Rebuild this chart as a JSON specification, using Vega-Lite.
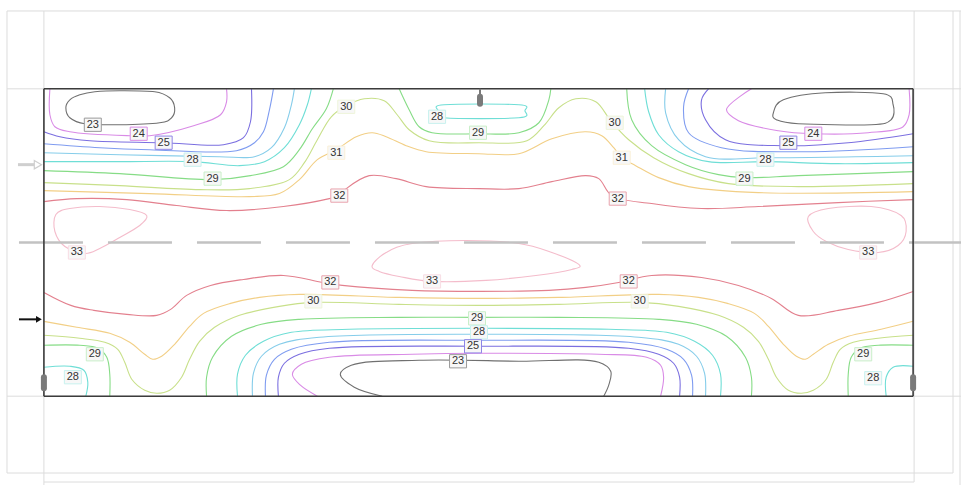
{
  "$schema": "https://vega.github.io/schema/vega-lite/v6.json",
  "width": 963,
  "height": 486,
  "autosize": {"type": "fit", "contains": "padding"},
  "padding": 0,
  "background": "white",
  "view": {"stroke": null},
  "datasets": {
    "rules": [
      {"s": "light", "x": 7, "y": 11, "x2": 963, "y2": 11},
      {"s": "light", "x": 7, "y": 89, "x2": 963, "y2": 89},
      {"s": "light", "x": 7, "y": 397, "x2": 963, "y2": 397},
      {"s": "light", "x": 7, "y": 474, "x2": 955, "y2": 474},
      {"s": "light", "x": 44, "y": 483, "x2": 916, "y2": 483},
      {"s": "light", "x": 7, "y": 11, "x2": 7, "y2": 474},
      {"s": "light", "x": 44, "y": 11, "x2": 44, "y2": 486},
      {"s": "light", "x": 916, "y": 11, "x2": 916, "y2": 483},
      {"s": "light", "x": 955, "y": 11, "x2": 955, "y2": 474},
      {"s": "light", "x": 962, "y": 11, "x2": 962, "y2": 486},
      {"s": "border", "x": 44, "y": 89, "x2": 915, "y2": 89},
      {"s": "border", "x": 44, "y": 397, "x2": 915, "y2": 397},
      {"s": "border", "x": 44, "y": 89, "x2": 44, "y2": 397},
      {"s": "border", "x": 915, "y": 89, "x2": 915, "y2": 397},
      {"s": "dash", "x": 19, "y": 243, "x2": 963, "y2": 243},
      {"s": "stem", "x": 481, "y": 89, "x2": 481, "y2": 98},
      {"s": "blob", "x": 481, "y": 97, "x2": 481, "y2": 104},
      {"s": "blob", "x": 44, "y": 378, "x2": 44, "y2": 389},
      {"s": "blob", "x": 915, "y": 378, "x2": 915, "y2": 389},
      {"s": "garrow", "x": 18, "y": 165, "x2": 37, "y2": 165},
      {"s": "barrow", "x": 19, "y": 320, "x2": 37, "y2": 320}
    ],
    "heads": [
      {"s": "garrow", "x": 38, "y": 165},
      {"s": "barrow", "x": 39, "y": 320}
    ],
    "lines": [
      {"c": "t24L", "lv": "24", "x": 50, "y": 89}, {"c": "t24L", "lv": "24", "x": 50, "y": 115}, {"c": "t24L", "lv": "24", "x": 55, "y": 127}, {"c": "t24L", "lv": "24", "x": 70, "y": 132}, {"c": "t24L", "lv": "24", "x": 130, "y": 136}, {"c": "t24L", "lv": "24", "x": 150, "y": 136}, {"c": "t24L", "lv": "24", "x": 194, "y": 126}, {"c": "t24L", "lv": "24", "x": 221, "y": 115}, {"c": "t24L", "lv": "24", "x": 227, "y": 102}, {"c": "t24L", "lv": "24", "x": 227, "y": 89},
      {"c": "t25L", "lv": "25", "x": 44, "y": 132}, {"c": "t25L", "lv": "25", "x": 60, "y": 137}, {"c": "t25L", "lv": "25", "x": 90, "y": 141}, {"c": "t25L", "lv": "25", "x": 164, "y": 143}, {"c": "t25L", "lv": "25", "x": 224, "y": 145}, {"c": "t25L", "lv": "25", "x": 244, "y": 138}, {"c": "t25L", "lv": "25", "x": 251, "y": 122}, {"c": "t25L", "lv": "25", "x": 252, "y": 89},
      {"c": "t26L", "lv": "26", "x": 44, "y": 144}, {"c": "t26L", "lv": "26", "x": 100, "y": 148}, {"c": "t26L", "lv": "26", "x": 150, "y": 150}, {"c": "t26L", "lv": "26", "x": 237, "y": 151}, {"c": "t26L", "lv": "26", "x": 255, "y": 143}, {"c": "t26L", "lv": "26", "x": 264, "y": 132}, {"c": "t26L", "lv": "26", "x": 270, "y": 110}, {"c": "t26L", "lv": "26", "x": 274, "y": 89},
      {"c": "t27L", "lv": "27", "x": 44, "y": 153}, {"c": "t27L", "lv": "27", "x": 120, "y": 155}, {"c": "t27L", "lv": "27", "x": 220, "y": 157}, {"c": "t27L", "lv": "27", "x": 255, "y": 157}, {"c": "t27L", "lv": "27", "x": 272, "y": 148}, {"c": "t27L", "lv": "27", "x": 285, "y": 128}, {"c": "t27L", "lv": "27", "x": 292, "y": 105}, {"c": "t27L", "lv": "27", "x": 295, "y": 89},
      {"c": "t28L", "lv": "28", "x": 44, "y": 162}, {"c": "t28L", "lv": "28", "x": 120, "y": 162}, {"c": "t28L", "lv": "28", "x": 193, "y": 162}, {"c": "t28L", "lv": "28", "x": 240, "y": 166}, {"c": "t28L", "lv": "28", "x": 265, "y": 162}, {"c": "t28L", "lv": "28", "x": 285, "y": 148}, {"c": "t28L", "lv": "28", "x": 300, "y": 125}, {"c": "t28L", "lv": "28", "x": 308, "y": 105}, {"c": "t28L", "lv": "28", "x": 312, "y": 89},
      {"c": "t29L", "lv": "29", "x": 44, "y": 171}, {"c": "t29L", "lv": "29", "x": 120, "y": 174}, {"c": "t29L", "lv": "29", "x": 213, "y": 180}, {"c": "t29L", "lv": "29", "x": 251, "y": 176}, {"c": "t29L", "lv": "29", "x": 284, "y": 167}, {"c": "t29L", "lv": "29", "x": 300, "y": 150}, {"c": "t29L", "lv": "29", "x": 313, "y": 129}, {"c": "t29L", "lv": "29", "x": 327, "y": 109}, {"c": "t29L", "lv": "29", "x": 334, "y": 89},
      {"c": "t30", "lv": "30", "x": 44, "y": 183}, {"c": "t30", "lv": "30", "x": 120, "y": 186}, {"c": "t30", "lv": "30", "x": 200, "y": 190}, {"c": "t30", "lv": "30", "x": 250, "y": 189}, {"c": "t30", "lv": "30", "x": 290, "y": 180}, {"c": "t30", "lv": "30", "x": 305, "y": 163}, {"c": "t30", "lv": "30", "x": 318, "y": 140}, {"c": "t30", "lv": "30", "x": 332, "y": 117}, {"c": "t30", "lv": "30", "x": 347, "y": 106}, {"c": "t30", "lv": "30", "x": 365, "y": 99}, {"c": "t30", "lv": "30", "x": 385, "y": 101}, {"c": "t30", "lv": "30", "x": 398, "y": 115}, {"c": "t30", "lv": "30", "x": 410, "y": 130}, {"c": "t30", "lv": "30", "x": 430, "y": 141}, {"c": "t30", "lv": "30", "x": 480, "y": 143}, {"c": "t30", "lv": "30", "x": 528, "y": 141}, {"c": "t30", "lv": "30", "x": 545, "y": 126}, {"c": "t30", "lv": "30", "x": 560, "y": 108}, {"c": "t30", "lv": "30", "x": 577, "y": 99}, {"c": "t30", "lv": "30", "x": 597, "y": 102}, {"c": "t30", "lv": "30", "x": 612, "y": 121}, {"c": "t30", "lv": "30", "x": 630, "y": 140}, {"c": "t30", "lv": "30", "x": 655, "y": 158}, {"c": "t30", "lv": "30", "x": 690, "y": 174}, {"c": "t30", "lv": "30", "x": 730, "y": 184}, {"c": "t30", "lv": "30", "x": 800, "y": 187}, {"c": "t30", "lv": "30", "x": 915, "y": 184},
      {"c": "t31", "lv": "31", "x": 44, "y": 191}, {"c": "t31", "lv": "31", "x": 150, "y": 194}, {"c": "t31", "lv": "31", "x": 250, "y": 197}, {"c": "t31", "lv": "31", "x": 280, "y": 194}, {"c": "t31", "lv": "31", "x": 300, "y": 180}, {"c": "t31", "lv": "31", "x": 318, "y": 160}, {"c": "t31", "lv": "31", "x": 337, "y": 150}, {"c": "t31", "lv": "31", "x": 357, "y": 137}, {"c": "t31", "lv": "31", "x": 373, "y": 133}, {"c": "t31", "lv": "31", "x": 387, "y": 137}, {"c": "t31", "lv": "31", "x": 407, "y": 146}, {"c": "t31", "lv": "31", "x": 427, "y": 152}, {"c": "t31", "lv": "31", "x": 480, "y": 154}, {"c": "t31", "lv": "31", "x": 520, "y": 154}, {"c": "t31", "lv": "31", "x": 553, "y": 139}, {"c": "t31", "lv": "31", "x": 587, "y": 132}, {"c": "t31", "lv": "31", "x": 603, "y": 136}, {"c": "t31", "lv": "31", "x": 615, "y": 148}, {"c": "t31", "lv": "31", "x": 623, "y": 158}, {"c": "t31", "lv": "31", "x": 637, "y": 166}, {"c": "t31", "lv": "31", "x": 660, "y": 178}, {"c": "t31", "lv": "31", "x": 690, "y": 187}, {"c": "t31", "lv": "31", "x": 760, "y": 193}, {"c": "t31", "lv": "31", "x": 915, "y": 192},
      {"c": "t32", "lv": "32", "x": 44, "y": 202}, {"c": "t32", "lv": "32", "x": 77, "y": 199}, {"c": "t32", "lv": "32", "x": 127, "y": 200}, {"c": "t32", "lv": "32", "x": 177, "y": 206}, {"c": "t32", "lv": "32", "x": 227, "y": 211}, {"c": "t32", "lv": "32", "x": 284, "y": 207}, {"c": "t32", "lv": "32", "x": 330, "y": 199}, {"c": "t32", "lv": "32", "x": 340, "y": 196}, {"c": "t32", "lv": "32", "x": 347, "y": 189}, {"c": "t32", "lv": "32", "x": 370, "y": 176}, {"c": "t32", "lv": "32", "x": 397, "y": 179}, {"c": "t32", "lv": "32", "x": 427, "y": 187}, {"c": "t32", "lv": "32", "x": 480, "y": 189}, {"c": "t32", "lv": "32", "x": 520, "y": 189}, {"c": "t32", "lv": "32", "x": 553, "y": 182}, {"c": "t32", "lv": "32", "x": 587, "y": 176}, {"c": "t32", "lv": "32", "x": 600, "y": 179}, {"c": "t32", "lv": "32", "x": 613, "y": 196}, {"c": "t32", "lv": "32", "x": 653, "y": 204}, {"c": "t32", "lv": "32", "x": 703, "y": 209}, {"c": "t32", "lv": "32", "x": 760, "y": 207}, {"c": "t32", "lv": "32", "x": 840, "y": 203}, {"c": "t32", "lv": "32", "x": 915, "y": 200},
      {"c": "t29C", "lv": "29", "x": 400, "y": 89}, {"c": "t29C", "lv": "29", "x": 410, "y": 110}, {"c": "t29C", "lv": "29", "x": 420, "y": 127}, {"c": "t29C", "lv": "29", "x": 433, "y": 133}, {"c": "t29C", "lv": "29", "x": 479, "y": 134}, {"c": "t29C", "lv": "29", "x": 520, "y": 133}, {"c": "t29C", "lv": "29", "x": 540, "y": 123}, {"c": "t29C", "lv": "29", "x": 550, "y": 100}, {"c": "t29C", "lv": "29", "x": 552, "y": 89},
      {"c": "t24R", "lv": "24", "x": 753, "y": 89}, {"c": "t24R", "lv": "24", "x": 728, "y": 110}, {"c": "t24R", "lv": "24", "x": 740, "y": 121}, {"c": "t24R", "lv": "24", "x": 780, "y": 131}, {"c": "t24R", "lv": "24", "x": 815, "y": 134}, {"c": "t24R", "lv": "24", "x": 870, "y": 133}, {"c": "t24R", "lv": "24", "x": 905, "y": 127}, {"c": "t24R", "lv": "24", "x": 911, "y": 115}, {"c": "t24R", "lv": "24", "x": 911, "y": 89},
      {"c": "t25R", "lv": "25", "x": 710, "y": 89}, {"c": "t25R", "lv": "25", "x": 703, "y": 100}, {"c": "t25R", "lv": "25", "x": 707, "y": 120}, {"c": "t25R", "lv": "25", "x": 727, "y": 140}, {"c": "t25R", "lv": "25", "x": 787, "y": 146}, {"c": "t25R", "lv": "25", "x": 850, "y": 143}, {"c": "t25R", "lv": "25", "x": 915, "y": 134},
      {"c": "t26R", "lv": "26", "x": 690, "y": 89}, {"c": "t26R", "lv": "26", "x": 685, "y": 107}, {"c": "t26R", "lv": "26", "x": 690, "y": 133}, {"c": "t26R", "lv": "26", "x": 723, "y": 148}, {"c": "t26R", "lv": "26", "x": 807, "y": 152}, {"c": "t26R", "lv": "26", "x": 915, "y": 147},
      {"c": "t27R", "lv": "27", "x": 667, "y": 89}, {"c": "t27R", "lv": "27", "x": 667, "y": 113}, {"c": "t27R", "lv": "27", "x": 680, "y": 140}, {"c": "t27R", "lv": "27", "x": 707, "y": 157}, {"c": "t27R", "lv": "27", "x": 773, "y": 158}, {"c": "t27R", "lv": "27", "x": 915, "y": 156},
      {"c": "t28R", "lv": "28", "x": 646, "y": 89}, {"c": "t28R", "lv": "28", "x": 650, "y": 112}, {"c": "t28R", "lv": "28", "x": 660, "y": 135}, {"c": "t28R", "lv": "28", "x": 680, "y": 152}, {"c": "t28R", "lv": "28", "x": 710, "y": 162}, {"c": "t28R", "lv": "28", "x": 767, "y": 162}, {"c": "t28R", "lv": "28", "x": 840, "y": 164}, {"c": "t28R", "lv": "28", "x": 915, "y": 163},
      {"c": "t29R", "lv": "29", "x": 628, "y": 89}, {"c": "t29R", "lv": "29", "x": 633, "y": 120}, {"c": "t29R", "lv": "29", "x": 653, "y": 146}, {"c": "t29R", "lv": "29", "x": 687, "y": 165}, {"c": "t29R", "lv": "29", "x": 720, "y": 175}, {"c": "t29R", "lv": "29", "x": 746, "y": 178}, {"c": "t29R", "lv": "29", "x": 800, "y": 176}, {"c": "t29R", "lv": "29", "x": 915, "y": 172},
      {"c": "b32", "lv": "32", "x": 44, "y": 293}, {"c": "b32", "lv": "32", "x": 71, "y": 306}, {"c": "b32", "lv": "32", "x": 94, "y": 311}, {"c": "b32", "lv": "32", "x": 127, "y": 315}, {"c": "b32", "lv": "32", "x": 157, "y": 316}, {"c": "b32", "lv": "32", "x": 171, "y": 310}, {"c": "b32", "lv": "32", "x": 187, "y": 296}, {"c": "b32", "lv": "32", "x": 211, "y": 286}, {"c": "b32", "lv": "32", "x": 244, "y": 280}, {"c": "b32", "lv": "32", "x": 284, "y": 276}, {"c": "b32", "lv": "32", "x": 323, "y": 283}, {"c": "b32", "lv": "32", "x": 343, "y": 286}, {"c": "b32", "lv": "32", "x": 413, "y": 291}, {"c": "b32", "lv": "32", "x": 480, "y": 292}, {"c": "b32", "lv": "32", "x": 550, "y": 291}, {"c": "b32", "lv": "32", "x": 587, "y": 288}, {"c": "b32", "lv": "32", "x": 620, "y": 283}, {"c": "b32", "lv": "32", "x": 653, "y": 276}, {"c": "b32", "lv": "32", "x": 703, "y": 278}, {"c": "b32", "lv": "32", "x": 740, "y": 286}, {"c": "b32", "lv": "32", "x": 773, "y": 299}, {"c": "b32", "lv": "32", "x": 800, "y": 316}, {"c": "b32", "lv": "32", "x": 840, "y": 311}, {"c": "b32", "lv": "32", "x": 880, "y": 303}, {"c": "b32", "lv": "32", "x": 915, "y": 292},
      {"c": "b31", "lv": "31", "x": 44, "y": 322}, {"c": "b31", "lv": "31", "x": 77, "y": 328}, {"c": "b31", "lv": "31", "x": 110, "y": 334}, {"c": "b31", "lv": "31", "x": 130, "y": 343}, {"c": "b31", "lv": "31", "x": 145, "y": 355}, {"c": "b31", "lv": "31", "x": 153, "y": 360}, {"c": "b31", "lv": "31", "x": 162, "y": 357}, {"c": "b31", "lv": "31", "x": 175, "y": 345}, {"c": "b31", "lv": "31", "x": 190, "y": 327}, {"c": "b31", "lv": "31", "x": 204, "y": 314}, {"c": "b31", "lv": "31", "x": 231, "y": 304}, {"c": "b31", "lv": "31", "x": 260, "y": 298}, {"c": "b31", "lv": "31", "x": 300, "y": 295}, {"c": "b31", "lv": "31", "x": 400, "y": 298}, {"c": "b31", "lv": "31", "x": 480, "y": 299}, {"c": "b31", "lv": "31", "x": 560, "y": 298}, {"c": "b31", "lv": "31", "x": 660, "y": 295}, {"c": "b31", "lv": "31", "x": 700, "y": 298}, {"c": "b31", "lv": "31", "x": 729, "y": 304}, {"c": "b31", "lv": "31", "x": 756, "y": 314}, {"c": "b31", "lv": "31", "x": 770, "y": 327}, {"c": "b31", "lv": "31", "x": 785, "y": 345}, {"c": "b31", "lv": "31", "x": 798, "y": 357}, {"c": "b31", "lv": "31", "x": 807, "y": 360}, {"c": "b31", "lv": "31", "x": 815, "y": 355}, {"c": "b31", "lv": "31", "x": 830, "y": 345}, {"c": "b31", "lv": "31", "x": 850, "y": 337}, {"c": "b31", "lv": "31", "x": 883, "y": 330}, {"c": "b31", "lv": "31", "x": 915, "y": 322},
      {"c": "b30", "lv": "30", "x": 44, "y": 336}, {"c": "b30", "lv": "30", "x": 80, "y": 339}, {"c": "b30", "lv": "30", "x": 105, "y": 343}, {"c": "b30", "lv": "30", "x": 118, "y": 350}, {"c": "b30", "lv": "30", "x": 125, "y": 363}, {"c": "b30", "lv": "30", "x": 132, "y": 380}, {"c": "b30", "lv": "30", "x": 145, "y": 391}, {"c": "b30", "lv": "30", "x": 157, "y": 394}, {"c": "b30", "lv": "30", "x": 170, "y": 391}, {"c": "b30", "lv": "30", "x": 182, "y": 378}, {"c": "b30", "lv": "30", "x": 190, "y": 360}, {"c": "b30", "lv": "30", "x": 200, "y": 342}, {"c": "b30", "lv": "30", "x": 215, "y": 328}, {"c": "b30", "lv": "30", "x": 240, "y": 316}, {"c": "b30", "lv": "30", "x": 280, "y": 307}, {"c": "b30", "lv": "30", "x": 314, "y": 303}, {"c": "b30", "lv": "30", "x": 400, "y": 305}, {"c": "b30", "lv": "30", "x": 480, "y": 306}, {"c": "b30", "lv": "30", "x": 560, "y": 305}, {"c": "b30", "lv": "30", "x": 641, "y": 303}, {"c": "b30", "lv": "30", "x": 680, "y": 307}, {"c": "b30", "lv": "30", "x": 720, "y": 316}, {"c": "b30", "lv": "30", "x": 745, "y": 328}, {"c": "b30", "lv": "30", "x": 760, "y": 342}, {"c": "b30", "lv": "30", "x": 770, "y": 360}, {"c": "b30", "lv": "30", "x": 778, "y": 378}, {"c": "b30", "lv": "30", "x": 790, "y": 391}, {"c": "b30", "lv": "30", "x": 803, "y": 394}, {"c": "b30", "lv": "30", "x": 815, "y": 391}, {"c": "b30", "lv": "30", "x": 828, "y": 380}, {"c": "b30", "lv": "30", "x": 835, "y": 363}, {"c": "b30", "lv": "30", "x": 842, "y": 350}, {"c": "b30", "lv": "30", "x": 855, "y": 343}, {"c": "b30", "lv": "30", "x": 880, "y": 339}, {"c": "b30", "lv": "30", "x": 915, "y": 336},
      {"c": "b29a", "lv": "29", "x": 207, "y": 397}, {"c": "b29a", "lv": "29", "x": 207, "y": 378}, {"c": "b29a", "lv": "29", "x": 213, "y": 358}, {"c": "b29a", "lv": "29", "x": 232, "y": 337}, {"c": "b29a", "lv": "29", "x": 262, "y": 325}, {"c": "b29a", "lv": "29", "x": 300, "y": 320}, {"c": "b29a", "lv": "29", "x": 400, "y": 318}, {"c": "b29a", "lv": "29", "x": 480, "y": 318}, {"c": "b29a", "lv": "29", "x": 560, "y": 318}, {"c": "b29a", "lv": "29", "x": 660, "y": 320}, {"c": "b29a", "lv": "29", "x": 698, "y": 325}, {"c": "b29a", "lv": "29", "x": 728, "y": 337}, {"c": "b29a", "lv": "29", "x": 747, "y": 358}, {"c": "b29a", "lv": "29", "x": 753, "y": 378}, {"c": "b29a", "lv": "29", "x": 753, "y": 397},
      {"c": "b28a", "lv": "28", "x": 238, "y": 397}, {"c": "b28a", "lv": "28", "x": 238, "y": 375}, {"c": "b28a", "lv": "28", "x": 246, "y": 356}, {"c": "b28a", "lv": "28", "x": 264, "y": 342}, {"c": "b28a", "lv": "28", "x": 292, "y": 333}, {"c": "b28a", "lv": "28", "x": 350, "y": 330}, {"c": "b28a", "lv": "28", "x": 480, "y": 329}, {"c": "b28a", "lv": "28", "x": 610, "y": 330}, {"c": "b28a", "lv": "28", "x": 668, "y": 333}, {"c": "b28a", "lv": "28", "x": 696, "y": 342}, {"c": "b28a", "lv": "28", "x": 714, "y": 356}, {"c": "b28a", "lv": "28", "x": 722, "y": 375}, {"c": "b28a", "lv": "28", "x": 722, "y": 397},
      {"c": "b27a", "lv": "27", "x": 253, "y": 397}, {"c": "b27a", "lv": "27", "x": 254, "y": 374}, {"c": "b27a", "lv": "27", "x": 262, "y": 357}, {"c": "b27a", "lv": "27", "x": 280, "y": 345}, {"c": "b27a", "lv": "27", "x": 320, "y": 338}, {"c": "b27a", "lv": "27", "x": 480, "y": 335}, {"c": "b27a", "lv": "27", "x": 640, "y": 338}, {"c": "b27a", "lv": "27", "x": 680, "y": 345}, {"c": "b27a", "lv": "27", "x": 698, "y": 357}, {"c": "b27a", "lv": "27", "x": 706, "y": 374}, {"c": "b27a", "lv": "27", "x": 707, "y": 397},
      {"c": "b26a", "lv": "26", "x": 266, "y": 397}, {"c": "b26a", "lv": "26", "x": 267, "y": 376}, {"c": "b26a", "lv": "26", "x": 275, "y": 360}, {"c": "b26a", "lv": "26", "x": 292, "y": 350}, {"c": "b26a", "lv": "26", "x": 330, "y": 343}, {"c": "b26a", "lv": "26", "x": 480, "y": 341}, {"c": "b26a", "lv": "26", "x": 630, "y": 343}, {"c": "b26a", "lv": "26", "x": 668, "y": 350}, {"c": "b26a", "lv": "26", "x": 685, "y": 360}, {"c": "b26a", "lv": "26", "x": 693, "y": 376}, {"c": "b26a", "lv": "26", "x": 694, "y": 397},
      {"c": "b25a", "lv": "25", "x": 279, "y": 397}, {"c": "b25a", "lv": "25", "x": 279, "y": 378}, {"c": "b25a", "lv": "25", "x": 285, "y": 364}, {"c": "b25a", "lv": "25", "x": 300, "y": 355}, {"c": "b25a", "lv": "25", "x": 330, "y": 349}, {"c": "b25a", "lv": "25", "x": 480, "y": 347}, {"c": "b25a", "lv": "25", "x": 630, "y": 349}, {"c": "b25a", "lv": "25", "x": 660, "y": 355}, {"c": "b25a", "lv": "25", "x": 675, "y": 364}, {"c": "b25a", "lv": "25", "x": 681, "y": 378}, {"c": "b25a", "lv": "25", "x": 681, "y": 397},
      {"c": "b24a", "lv": "24", "x": 318, "y": 397}, {"c": "b24a", "lv": "24", "x": 301, "y": 386}, {"c": "b24a", "lv": "24", "x": 293, "y": 375}, {"c": "b24a", "lv": "24", "x": 302, "y": 365}, {"c": "b24a", "lv": "24", "x": 330, "y": 358}, {"c": "b24a", "lv": "24", "x": 413, "y": 355}, {"c": "b24a", "lv": "24", "x": 480, "y": 354}, {"c": "b24a", "lv": "24", "x": 600, "y": 355}, {"c": "b24a", "lv": "24", "x": 648, "y": 358}, {"c": "b24a", "lv": "24", "x": 662, "y": 366}, {"c": "b24a", "lv": "24", "x": 665, "y": 378}, {"c": "b24a", "lv": "24", "x": 662, "y": 397},
      {"c": "b23a", "lv": "23", "x": 383, "y": 397}, {"c": "b23a", "lv": "23", "x": 355, "y": 388}, {"c": "b23a", "lv": "23", "x": 341, "y": 375}, {"c": "b23a", "lv": "23", "x": 352, "y": 366}, {"c": "b23a", "lv": "23", "x": 420, "y": 361}, {"c": "b23a", "lv": "23", "x": 520, "y": 362}, {"c": "b23a", "lv": "23", "x": 600, "y": 363}, {"c": "b23a", "lv": "23", "x": 612, "y": 372}, {"c": "b23a", "lv": "23", "x": 610, "y": 386}, {"c": "b23a", "lv": "23", "x": 605, "y": 397},
      {"c": "b29cL", "lv": "29", "x": 44, "y": 346}, {"c": "b29cL", "lv": "29", "x": 80, "y": 346}, {"c": "b29cL", "lv": "29", "x": 98, "y": 349}, {"c": "b29cL", "lv": "29", "x": 107, "y": 358}, {"c": "b29cL", "lv": "29", "x": 110, "y": 375}, {"c": "b29cL", "lv": "29", "x": 110, "y": 397},
      {"c": "b28cL", "lv": "28", "x": 44, "y": 368}, {"c": "b28cL", "lv": "28", "x": 70, "y": 367}, {"c": "b28cL", "lv": "28", "x": 84, "y": 371}, {"c": "b28cL", "lv": "28", "x": 88, "y": 383}, {"c": "b28cL", "lv": "28", "x": 86, "y": 397},
      {"c": "b29cR", "lv": "29", "x": 915, "y": 346}, {"c": "b29cR", "lv": "29", "x": 880, "y": 346}, {"c": "b29cR", "lv": "29", "x": 862, "y": 349}, {"c": "b29cR", "lv": "29", "x": 853, "y": 358}, {"c": "b29cR", "lv": "29", "x": 850, "y": 375}, {"c": "b29cR", "lv": "29", "x": 850, "y": 397},
      {"c": "b28cR", "lv": "28", "x": 915, "y": 367}, {"c": "b28cR", "lv": "28", "x": 895, "y": 368}, {"c": "b28cR", "lv": "28", "x": 888, "y": 378}, {"c": "b28cR", "lv": "28", "x": 888, "y": 397}
    ],
    "loops": [
      {"c": "L23L", "lv": "23", "x": 80, "y": 95}, {"c": "L23L", "lv": "23", "x": 70, "y": 100}, {"c": "L23L", "lv": "23", "x": 66, "y": 108}, {"c": "L23L", "lv": "23", "x": 70, "y": 118}, {"c": "L23L", "lv": "23", "x": 85, "y": 124}, {"c": "L23L", "lv": "23", "x": 120, "y": 125}, {"c": "L23L", "lv": "23", "x": 160, "y": 123}, {"c": "L23L", "lv": "23", "x": 172, "y": 118}, {"c": "L23L", "lv": "23", "x": 175, "y": 108}, {"c": "L23L", "lv": "23", "x": 170, "y": 98}, {"c": "L23L", "lv": "23", "x": 155, "y": 92}, {"c": "L23L", "lv": "23", "x": 120, "y": 91}, {"c": "L23L", "lv": "23", "x": 95, "y": 92},
      {"c": "L23R", "lv": "23", "x": 775, "y": 113}, {"c": "L23R", "lv": "23", "x": 785, "y": 100}, {"c": "L23R", "lv": "23", "x": 827, "y": 93}, {"c": "L23R", "lv": "23", "x": 885, "y": 94}, {"c": "L23R", "lv": "23", "x": 895, "y": 105}, {"c": "L23R", "lv": "23", "x": 893, "y": 120}, {"c": "L23R", "lv": "23", "x": 873, "y": 125}, {"c": "L23R", "lv": "23", "x": 800, "y": 124}, {"c": "L23R", "lv": "23", "x": 778, "y": 120},
      {"c": "L33L", "lv": "33", "x": 56, "y": 215}, {"c": "L33L", "lv": "33", "x": 70, "y": 209}, {"c": "L33L", "lv": "33", "x": 100, "y": 207}, {"c": "L33L", "lv": "33", "x": 130, "y": 210}, {"c": "L33L", "lv": "33", "x": 147, "y": 216}, {"c": "L33L", "lv": "33", "x": 140, "y": 226}, {"c": "L33L", "lv": "33", "x": 120, "y": 238}, {"c": "L33L", "lv": "33", "x": 100, "y": 249}, {"c": "L33L", "lv": "33", "x": 85, "y": 254}, {"c": "L33L", "lv": "33", "x": 65, "y": 247}, {"c": "L33L", "lv": "33", "x": 55, "y": 232},
      {"c": "L33R", "lv": "33", "x": 810, "y": 217}, {"c": "L33R", "lv": "33", "x": 830, "y": 209}, {"c": "L33R", "lv": "33", "x": 873, "y": 207}, {"c": "L33R", "lv": "33", "x": 903, "y": 216}, {"c": "L33R", "lv": "33", "x": 908, "y": 232}, {"c": "L33R", "lv": "33", "x": 900, "y": 246}, {"c": "L33R", "lv": "33", "x": 880, "y": 253}, {"c": "L33R", "lv": "33", "x": 850, "y": 250}, {"c": "L33R", "lv": "33", "x": 828, "y": 242}, {"c": "L33R", "lv": "33", "x": 815, "y": 232},
      {"c": "L33C", "lv": "33", "x": 373, "y": 266}, {"c": "L33C", "lv": "33", "x": 387, "y": 253}, {"c": "L33C", "lv": "33", "x": 413, "y": 244}, {"c": "L33C", "lv": "33", "x": 467, "y": 241}, {"c": "L33C", "lv": "33", "x": 520, "y": 244}, {"c": "L33C", "lv": "33", "x": 553, "y": 253}, {"c": "L33C", "lv": "33", "x": 580, "y": 265}, {"c": "L33C", "lv": "33", "x": 573, "y": 270}, {"c": "L33C", "lv": "33", "x": 537, "y": 276}, {"c": "L33C", "lv": "33", "x": 487, "y": 281}, {"c": "L33C", "lv": "33", "x": 433, "y": 282}, {"c": "L33C", "lv": "33", "x": 400, "y": 277}, {"c": "L33C", "lv": "33", "x": 380, "y": 272},
      {"c": "L28C", "lv": "28", "x": 445, "y": 105}, {"c": "L28C", "lv": "28", "x": 520, "y": 105}, {"c": "L28C", "lv": "28", "x": 526, "y": 111}, {"c": "L28C", "lv": "28", "x": 520, "y": 118}, {"c": "L28C", "lv": "28", "x": 445, "y": 118}, {"c": "L28C", "lv": "28", "x": 439, "y": 111}
    ],
    "labels": [
      {"lv": "23", "x": 93, "y": 125}, {"lv": "24", "x": 139, "y": 134}, {"lv": "25", "x": 164, "y": 143}, {"lv": "28", "x": 193, "y": 160}, {"lv": "29", "x": 213, "y": 179},
      {"lv": "30", "x": 347, "y": 107}, {"lv": "31", "x": 337, "y": 153}, {"lv": "32", "x": 340, "y": 196}, {"lv": "28", "x": 438, "y": 117}, {"lv": "29", "x": 479, "y": 133},
      {"lv": "30", "x": 616, "y": 123}, {"lv": "31", "x": 623, "y": 158}, {"lv": "32", "x": 619, "y": 199}, {"lv": "25", "x": 790, "y": 143}, {"lv": "24", "x": 815, "y": 134},
      {"lv": "28", "x": 767, "y": 160}, {"lv": "29", "x": 746, "y": 179}, {"lv": "33", "x": 77, "y": 253}, {"lv": "33", "x": 870, "y": 253},
      {"lv": "32", "x": 331, "y": 283}, {"lv": "33", "x": 433, "y": 282}, {"lv": "32", "x": 630, "y": 282}, {"lv": "30", "x": 314, "y": 302}, {"lv": "30", "x": 641, "y": 302},
      {"lv": "29", "x": 478, "y": 319}, {"lv": "28", "x": 480, "y": 333}, {"lv": "25", "x": 474, "y": 347}, {"lv": "23", "x": 459, "y": 362},
      {"lv": "29", "x": 95, "y": 355}, {"lv": "28", "x": 73, "y": 378}, {"lv": "29", "x": 865, "y": 355}, {"lv": "28", "x": 875, "y": 379}
    ]
  },
  "encoding": {
    "x": {"field": "x", "type": "quantitative", "scale": {"domain": [0, 963], "nice": false, "zero": false}, "axis": null},
    "y": {"field": "y", "type": "quantitative", "scale": {"domain": [0, 486], "nice": false, "zero": false, "reverse": true}, "axis": null}
  },
  "layer": [
    {
      "data": {"name": "rules"},
      "transform": [{"filter": "datum.s == 'light'"}],
      "mark": {"type": "rule", "stroke": "#dcdcdc", "strokeWidth": 1},
      "encoding": {"x2": {"field": "x2"}, "y2": {"field": "y2"}}
    },
    {
      "data": {"name": "lines"},
      "mark": {"type": "line", "interpolate": "catmull-rom", "strokeWidth": 1.1},
      "encoding": {
        "detail": {"field": "c"},
        "order": {"value": null},
        "color": {"field": "lv", "type": "nominal", "legend": null,
          "scale": {"domain": ["23", "24", "25", "26", "27", "28", "29", "30", "31", "32", "33"],
            "range": ["#707070", "#d98be6", "#7b6fe0", "#7f9cf0", "#86cdea", "#6fded6", "#86dc86", "#c8e08a", "#f2cf86", "#e3808e", "#f4bccb"]}}
      }
    },
    {
      "data": {"name": "loops"},
      "mark": {"type": "line", "interpolate": "cardinal-closed", "strokeWidth": 1.1},
      "encoding": {
        "detail": {"field": "c"},
        "order": {"value": null},
        "color": {"field": "lv", "type": "nominal", "legend": null}
      }
    },
    {
      "data": {"name": "rules"},
      "transform": [{"filter": "datum.s == 'dash'"}],
      "mark": {"type": "rule", "stroke": "#c2c2c2", "strokeWidth": 2.5, "strokeDash": [64, 25]},
      "encoding": {"x2": {"field": "x2"}, "y2": {"field": "y2"}}
    },
    {
      "data": {"name": "rules"},
      "transform": [{"filter": "datum.s == 'border'"}],
      "mark": {"type": "rule", "stroke": "#3c3c3c", "strokeWidth": 1.6},
      "encoding": {"x2": {"field": "x2"}, "y2": {"field": "y2"}}
    },
    {
      "data": {"name": "rules"},
      "transform": [{"filter": "datum.s == 'stem'"}],
      "mark": {"type": "rule", "stroke": "#7a7a7a", "strokeWidth": 2},
      "encoding": {"x2": {"field": "x2"}, "y2": {"field": "y2"}}
    },
    {
      "data": {"name": "rules"},
      "transform": [{"filter": "datum.s == 'blob'"}],
      "mark": {"type": "rule", "stroke": "#7a7a7a", "strokeWidth": 6, "strokeCap": "round"},
      "encoding": {"x2": {"field": "x2"}, "y2": {"field": "y2"}}
    },
    {
      "data": {"name": "rules"},
      "transform": [{"filter": "datum.s == 'garrow'"}],
      "mark": {"type": "rule", "stroke": "#cfcfcf", "strokeWidth": 3},
      "encoding": {"x2": {"field": "x2"}, "y2": {"field": "y2"}}
    },
    {
      "data": {"name": "rules"},
      "transform": [{"filter": "datum.s == 'barrow'"}],
      "mark": {"type": "rule", "stroke": "#111111", "strokeWidth": 2},
      "encoding": {"x2": {"field": "x2"}, "y2": {"field": "y2"}}
    },
    {
      "data": {"name": "heads"},
      "transform": [{"filter": "datum.s == 'garrow'"}],
      "mark": {"type": "point", "shape": "triangle-right", "size": 70, "filled": true, "fill": "#ffffff", "stroke": "#cfcfcf", "strokeWidth": 1.2, "opacity": 1}
    },
    {
      "data": {"name": "heads"},
      "transform": [{"filter": "datum.s == 'barrow'"}],
      "mark": {"type": "point", "shape": "triangle-right", "size": 45, "filled": true, "fill": "#111111", "opacity": 1}
    },
    {
      "data": {"name": "labels"},
      "mark": {"type": "point", "shape": "M -1 -0.78 L 1 -0.78 L 1 0.78 L -1 0.78 Z", "size": 289, "fill": "#f7f7f7", "strokeWidth": 1, "opacity": 1, "filled": false},
      "encoding": {
        "stroke": {"field": "lv", "type": "nominal", "legend": null,
          "scale": {"domain": ["23", "24", "25", "26", "27", "28", "29", "30", "31", "32", "33"],
            "range": ["#9a9a9a", "#d98be6", "#8f85e6", "#7f9cf0", "#bfe9f4", "#c7f1ee", "#c9efc9", "#eef5da", "#faf0d8", "#e9a3ad", "#f8dde4"]}}
      }
    },
    {
      "data": {"name": "labels"},
      "mark": {"type": "text", "font": "Liberation Sans", "fontSize": 11, "fill": "#333333", "baseline": "middle", "align": "center"},
      "encoding": {"text": {"field": "lv"}}
    }
  ]
}
